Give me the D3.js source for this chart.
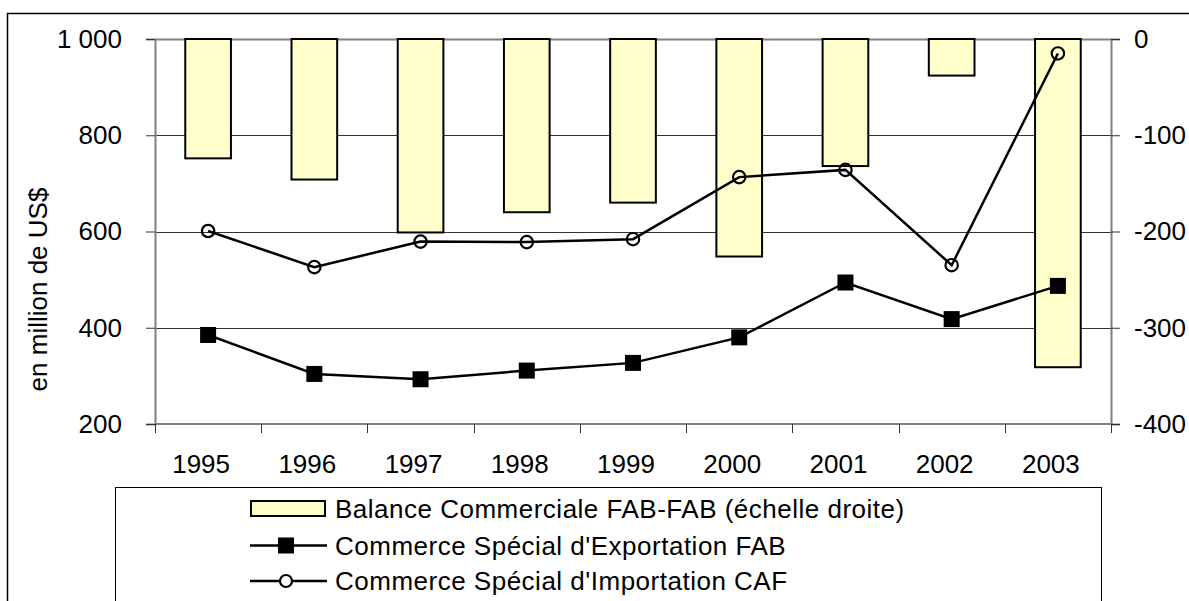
<!DOCTYPE html>
<html>
<head>
<meta charset="utf-8">
<script src="https://cdn.jsdelivr.net/npm/d3@7"></script>
<style>
  html, body { margin: 0; padding: 0; background: #fff; }
  svg { display: block; font-family: "Liberation Sans", Arial, sans-serif; }
</style>
</head>
<body>
<svg id="chart" width="1189" height="601"></svg>
<script>
// ---- data ----
const years = ["1995", "1996", "1997", "1998", "1999", "2000", "2001", "2002", "2003"];
const balance = [-124, -146, -201, -180, -170, -226, -132, -38, -341];
const exports_ = [385, 304, 293, 311, 327, 380, 494, 418, 487];
const imports_ = [601, 526, 579, 578, 584, 713, 728, 530, 970];
const leftTicks = [200, 400, 600, 800, 1000];
const rightTicks = [-400, -300, -200, -100, 0];
const seriesNames = [
  "Balance Commerciale FAB-FAB (échelle droite)",
  "Commerce Spécial d'Exportation FAB",
  "Commerce Spécial d'Importation CAF"
];
const yTitle = "en million de US$";

// ---- layout ----
const plot = { left: 155, right: 1111, top: 39, bottom: 424 };
const FS = 26;

const svg = d3.select("#chart");
const fmt = d3.formatLocale({ decimal: ",", thousands: " ", grouping: [3], currency: ["", ""] }).format(",d");

const x = d3.scaleBand().domain(years).range([plot.left, plot.right]).paddingInner(0).paddingOuter(0);
const yL = d3.scaleLinear().domain([200, 1000]).range([plot.bottom, plot.top]);
const yR = d3.scaleLinear().domain([-400, 0]).range([plot.bottom, plot.top]);

// outer chart border
svg.append("rect").attr("x", 7.5).attr("y", 13.5).attr("width", 1300).attr("height", 800)
  .attr("fill", "none").attr("stroke", "#000").attr("stroke-width", 1.5);

// gridlines
svg.append("g").selectAll("line").data(leftTicks).join("line")
  .attr("x1", plot.left).attr("x2", plot.right)
  .attr("y1", d => Math.round(yL(d)) + 0.5).attr("y2", d => Math.round(yL(d)) + 0.5)
  .attr("stroke", d => d === 1000 ? "#808080" : "#333").attr("stroke-width", d => d === 1000 ? 2 : 1);

// bars (right axis)
const bw = x.bandwidth() * 0.43;
svg.append("g").selectAll("rect").data(years).join("rect")
  .attr("x", d => x(d) + x.bandwidth() / 2 - bw / 2)
  .attr("y", yR(0))
  .attr("width", bw)
  .attr("height", (d, i) => yR(balance[i]) - yR(0))
  .attr("fill", "#FFFFCC").attr("stroke", "#000").attr("stroke-width", 2);

// left axis
const gL = svg.append("g").attr("transform", `translate(${plot.left},0)`)
  .call(d3.axisLeft(yL).tickValues(leftTicks).tickFormat(fmt).tickSize(9).tickPadding(24));
gL.select(".domain").attr("stroke", "#808080").attr("stroke-width", 2);
gL.selectAll(".tick line").attr("stroke", "#333");
gL.selectAll("text").attr("font-size", FS).attr("font-family", "Liberation Sans, Arial").attr("fill", "#000");

// right axis
const gR = svg.append("g").attr("transform", `translate(${plot.right},0)`)
  .call(d3.axisRight(yR).tickValues(rightTicks).tickFormat(d => String(d)).tickSize(9).tickPadding(14));
gR.select(".domain").attr("stroke", "#808080").attr("stroke-width", 2);
gR.selectAll(".tick line").attr("stroke", "#333");
gR.selectAll("text").attr("font-size", FS).attr("font-family", "Liberation Sans, Arial").attr("fill", "#000");

// bottom axis with ticks at category boundaries
const gB = svg.append("g").attr("transform", `translate(0,${plot.bottom})`);
gB.append("line").attr("x1", plot.left).attr("x2", plot.right).attr("y1", 0).attr("y2", 0)
  .attr("stroke", "#808080").attr("stroke-width", 2);
const bounds = years.map(d => x(d)).concat([plot.right]);
gB.selectAll("line.tk").data(bounds).join("line").attr("class", "tk")
  .attr("x1", d => Math.round(d) + 0.5).attr("x2", d => Math.round(d) + 0.5)
  .attr("y1", 0).attr("y2", 9).attr("stroke", "#333");
gB.selectAll("text").data(years).join("text")
  .attr("x", d => x(d) + x.bandwidth() / 2 - 7).attr("y", 49)
  .attr("text-anchor", "middle").attr("font-size", FS).text(d => d);

// y title
svg.append("text")
  .attr("transform", `translate(47,${(plot.top + plot.bottom) / 2 + 58}) rotate(-90)`)
  .attr("text-anchor", "middle").attr("font-size", FS).text(yTitle);

// lines
const lineL = d3.line().x((d, i) => x(years[i]) + x.bandwidth() / 2).y(d => yL(d));
svg.append("path").datum(exports_).attr("d", lineL)
  .attr("fill", "none").attr("stroke", "#000").attr("stroke-width", 2.5);
svg.append("path").datum(imports_).attr("d", lineL)
  .attr("fill", "none").attr("stroke", "#000").attr("stroke-width", 2.5);
svg.append("g").selectAll("rect").data(exports_).join("rect")
  .attr("x", (d, i) => x(years[i]) + x.bandwidth() / 2 - 8)
  .attr("y", d => yL(d) - 8).attr("width", 16).attr("height", 16).attr("fill", "#000");
svg.append("g").selectAll("circle").data(imports_).join("circle")
  .attr("cx", (d, i) => x(years[i]) + x.bandwidth() / 2)
  .attr("cy", d => yL(d)).attr("r", 6.2)
  .attr("fill", "none").attr("stroke", "#000").attr("stroke-width", 2.2);

// legend
const lg = svg.append("g");
lg.append("rect").attr("x", 115.5).attr("y", 487.5).attr("width", 986).attr("height", 200)
  .attr("fill", "#fff").attr("stroke", "#000").attr("stroke-width", 1);
const rows = [508.5, 545.5, 581];
lg.append("rect").attr("x", 251).attr("y", rows[0] - 7.5).attr("width", 74).attr("height", 15)
  .attr("fill", "#FFFFCC").attr("stroke", "#000").attr("stroke-width", 2);
lg.append("line").attr("x1", 250).attr("x2", 327).attr("y1", rows[1]).attr("y2", rows[1])
  .attr("stroke", "#000").attr("stroke-width", 2.5);
lg.append("rect").attr("x", 278).attr("y", rows[1] - 8).attr("width", 16).attr("height", 16).attr("fill", "#000");
lg.append("line").attr("x1", 250).attr("x2", 327).attr("y1", rows[2]).attr("y2", rows[2])
  .attr("stroke", "#000").attr("stroke-width", 2.5);
lg.append("circle").attr("cx", 286).attr("cy", rows[2]).attr("r", 6)
  .attr("fill", "#fff").attr("stroke", "#000").attr("stroke-width", 2.2);
lg.selectAll("text").data(seriesNames).join("text")
  .attr("x", 335).attr("y", (d, i) => rows[i] + 9)
  .attr("font-size", FS).attr("letter-spacing", 0.5).text(d => d);
</script>
</body>
</html>
